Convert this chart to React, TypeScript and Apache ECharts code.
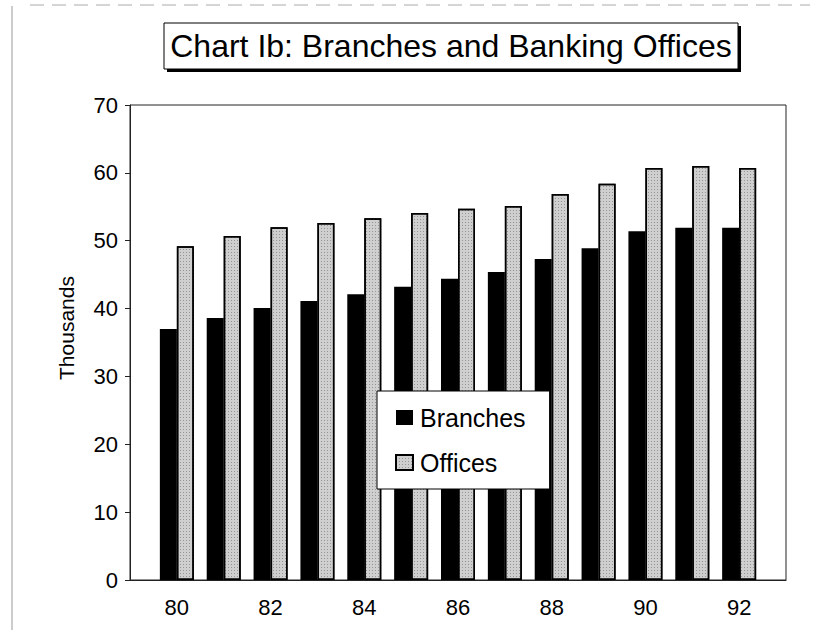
import React, { useEffect, useRef } from "react";
import * as echarts from "echarts";

const years = ["80", "81", "82", "83", "84", "85", "86", "87", "88", "89", "90", "91", "92"];
const branches = [37.0, 38.6, 40.1, 41.1, 42.1, 43.2, 44.4, 45.4, 47.3, 48.9, 51.4, 51.9, 51.9];
const offices = [49.2, 50.7, 52.0, 52.6, 53.3, 54.1, 54.7, 55.1, 56.9, 58.4, 60.7, 61.0, 60.7];
const titleText = "Chart Ib: Branches and Banking Offices";
const yAxisTitle = "Thousands";
const seriesNames = ["Branches", "Offices"];

const FONT = "'Liberation Sans', Arial, Helvetica, sans-serif";

export default function App() {
  const ref = useRef<HTMLDivElement>(null);

  useEffect(() => {
    if (!ref.current) return;
    const chart = echarts.init(ref.current, null, { renderer: "svg" });

    // pad one empty slot at each end so the frame extends half a step beyond 80 and 92
    const axisCats = [" ", ...years, "  "];
    const padded = (arr: number[]) => [null, ...arr, null];

    chart.setOption({
      animation: false,
      backgroundColor: "#ffffff",
      textStyle: { fontFamily: FONT, color: "#000" },
      grid: {
        left: 130,
        right: 30,
        top: 105,
        bottom: 57,
        show: true,
        borderColor: "#222",
        borderWidth: 1,
      },
      xAxis: {
        type: "category",
        data: axisCats,
        boundaryGap: false,
        axisLine: { lineStyle: { color: "#222", width: 1 } },
        axisTick: { show: false },
        axisLabel: {
          interval: (index: number) => index >= 1 && index <= years.length && (index - 1) % 2 === 0,
          fontSize: 22,
          color: "#000",
          fontFamily: FONT,
          margin: 16,
        },
        splitLine: { show: false },
      },
      yAxis: {
        type: "value",
        min: 0,
        max: 70,
        interval: 10,
        axisLine: { show: true, lineStyle: { color: "#222", width: 1 } },
        axisTick: { show: true, length: 5, lineStyle: { color: "#222" } },
        axisLabel: { fontSize: 22, color: "#000", fontFamily: FONT, margin: 12 },
        splitLine: { show: false },
      },
      legend: {
        orient: "vertical",
        left: 377,
        top: 391,
        backgroundColor: "#fff",
        borderColor: "#000",
        borderWidth: 1,
        padding: [14, 24, 14, 18],
        itemGap: 20,
        itemWidth: 17,
        itemHeight: 15,
        icon: "rect",
        textStyle: { fontSize: 25, color: "#000", fontFamily: FONT, padding: [0, 0, 0, 2] },
        data: seriesNames,
      },
      graphic: [
        {
          type: "line",
          shape: { x1: 12, y1: 6, x2: 12, y2: 630 },
          style: { stroke: "#999", lineWidth: 1 },
        },
        {
          type: "line",
          shape: { x1: 30, y1: 5, x2: 810, y2: 5 },
          style: { stroke: "#aaa", lineWidth: 1, lineDash: [14, 8] },
        },
        {
          type: "rect",
          shape: { x: 167, y: 26, width: 574, height: 46 },
          style: { fill: "#000" },
        },
        {
          type: "rect",
          shape: { x: 164, y: 23, width: 574, height: 46 },
          style: { fill: "#fff", stroke: "#000", lineWidth: 1 },
        },
        {
          type: "text",
          x: 451,
          y: 46,
          style: {
            text: titleText,
            font: `32px ${FONT}`,
            fill: "#000",
            textAlign: "center",
            textVerticalAlign: "middle",
          },
        },
        {
          type: "text",
          x: 66,
          y: 328,
          rotation: Math.PI / 2,
          style: {
            text: yAxisTitle,
            font: `21px ${FONT}`,
            fill: "#000",
            textAlign: "center",
            textVerticalAlign: "middle",
          },
        },
      ],
      series: [
        {
          name: seriesNames[0],
          type: "bar",
          data: padded(branches),
          barWidth: 17,
          barGap: "0%",
          itemStyle: { color: "#000" },
        },
        {
          name: seriesNames[1],
          type: "bar",
          data: padded(offices),
          barWidth: 17,
          itemStyle: {
            color: "#cfcfcf",
            borderColor: "#000",
            borderWidth: 1.5,
            decal: {
              symbol: "rect",
              symbolSize: 1,
              color: "rgba(0,0,0,0.28)",
              dashArrayX: [1, 2],
              dashArrayY: [1, 2],
              rotation: 0,
            },
          },
        },
      ],
    });

    return () => chart.dispose();
  }, []);

  return (
    <div
      ref={ref}
      style={{ position: "fixed", left: 0, top: 0, width: 816, height: 637, background: "#fff" }}
    />
  );
}
